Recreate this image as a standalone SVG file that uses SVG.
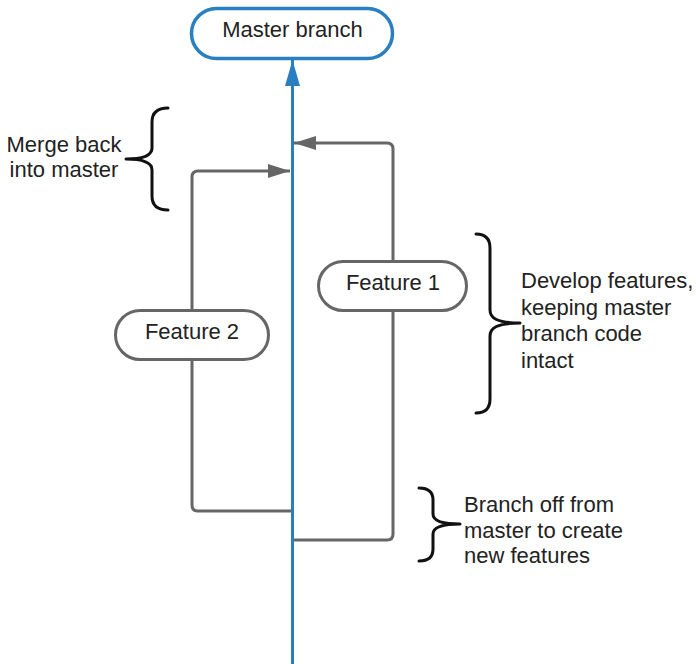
<svg xmlns="http://www.w3.org/2000/svg" width="696" height="664" viewBox="0 0 696 664">
<defs>
<style>
text{font-family:"Liberation Sans",Arial,sans-serif;font-size:22px;fill:#222}
.c{text-anchor:middle}
.conn{fill:none;stroke:#666;stroke-width:3}
.pill{fill:#fff;stroke:#666;stroke-width:3}
.brace{fill:none;stroke:#111;stroke-width:3;stroke-linecap:round;stroke-linejoin:round}
</style>
<marker id="ag" markerUnits="userSpaceOnUse" markerWidth="24" markerHeight="16" refX="22" refY="7" orient="auto">
<path d="M0 0 L22 7 L0 14 Z" fill="#666"/>
</marker>
<marker id="ab" markerUnits="userSpaceOnUse" markerWidth="28" markerHeight="16" refX="26" refY="7.5" orient="auto">
<path d="M0 0 L26 7.5 L0 15 Z" fill="#2a7fc1"/>
</marker>
</defs>
<g id="connectors">
<path class="conn" d="M292 540 H387 Q393 540 393 534 V149 Q393 143 387 143 H294" marker-end="url(#ag)"/>
<path class="conn" d="M292 511 H198 Q192 511 192 505 V177 Q192 171 198 171 H290" marker-end="url(#ag)"/>
<path d="M292.5 664 V60" fill="none" stroke="#2a7fc1" stroke-width="3" marker-end="url(#ab)"/>
</g>
<g id="master">
<rect x="191.5" y="8.5" width="201" height="50" rx="25" fill="#fff" stroke="#2a7fc1" stroke-width="3.5"/>
<text class="c" x="292.5" y="37">Master branch</text>
</g>
<g id="feature1">
<rect class="pill" x="318.5" y="261.5" width="148" height="49" rx="24.5"/>
<text class="c" x="393" y="290">Feature 1</text>
</g>
<g id="feature2">
<rect class="pill" x="115.5" y="310.5" width="153" height="49" rx="24.5"/>
<text class="c" x="192" y="339">Feature 2</text>
</g>
<g id="merge-note">
<path class="brace" d="M168 108 C158 108 152 112 152 122 L152 148 C152 155 145 159 126 159 C145 159 152 163 152 170 L152 196 C152 206 158 210 168 210"/>
<text class="c" x="64" y="152">Merge back</text>
<text class="c" x="64" y="177">into master</text>
</g>
<g id="develop-note">
<path class="brace" d="M476 234 C485 234 490 238 490 248 L490 310 C490 318 497 323 520 323 C497 323 490 328 490 336 L490 399 C490 409 485 413 476 413"/>
<text x="521" y="288">Develop features,</text>
<text x="521" y="314.5">keeping master</text>
<text x="521" y="341">branch code</text>
<text x="521" y="367.5">intact</text>
</g>
<g id="branch-note">
<path class="brace" d="M419 488 C428 488 433 492 433 500 L433 514 C433 520 440 524 460 524 C440 524 433 528 433 534 L433 549 C433 557 428 561 419 561"/>
<text x="464" y="512">Branch off from</text>
<text x="464" y="537.5">master to create</text>
<text x="464" y="563">new features</text>
</g>
</svg>
